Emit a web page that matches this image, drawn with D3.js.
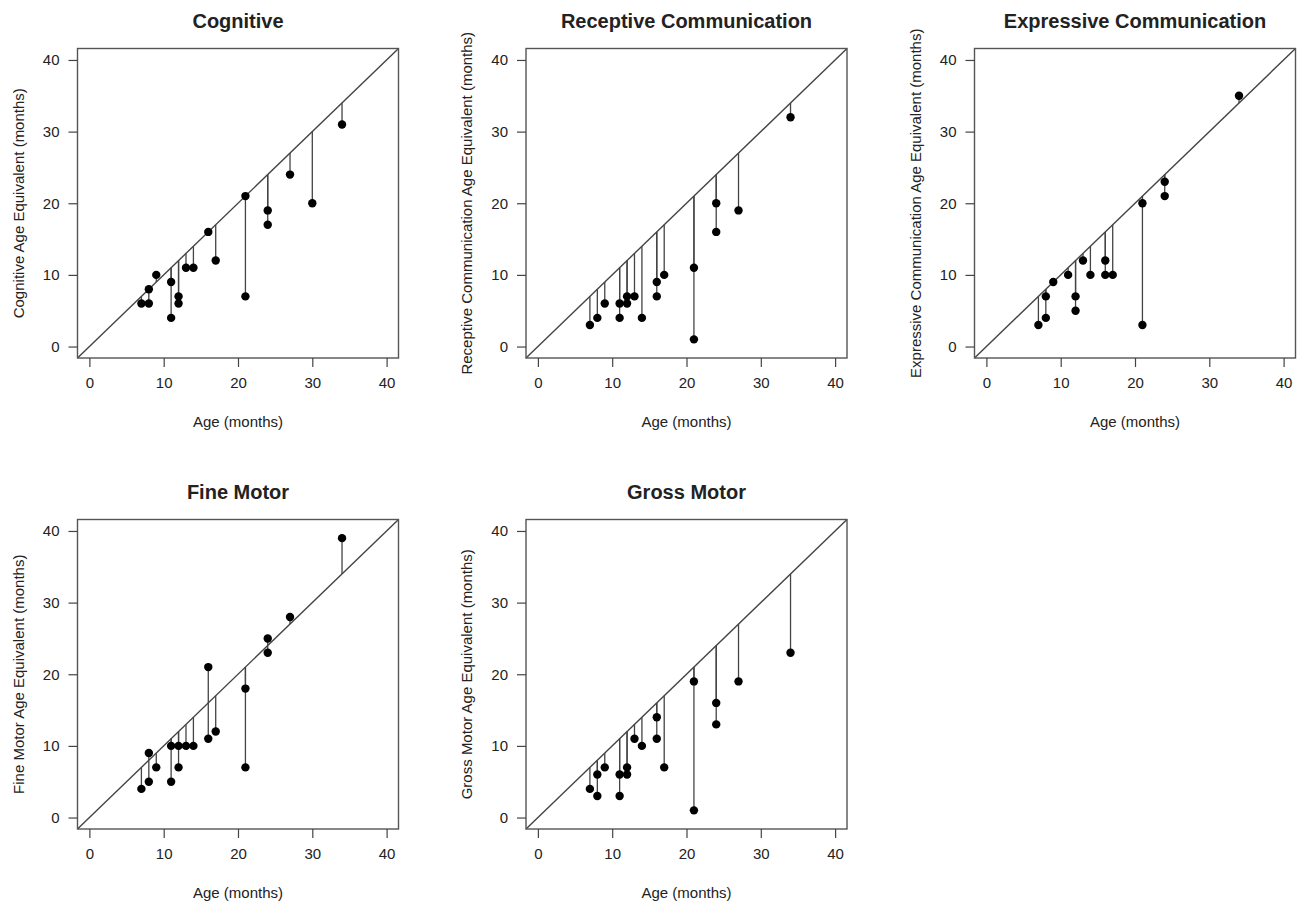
<!DOCTYPE html>
<html>
<head>
<meta charset="utf-8">
<script src="https://cdn.jsdelivr.net/npm/d3@7"></script>
<style>
  body { margin: 0; background: #fff; }
  text { font-family: "Liberation Sans", Arial, Helvetica, sans-serif; fill: #222; }
</style>
</head>
<body>
<div id="chart"></div>
<script>
// Panels
var titles = ["Cognitive", "Receptive Communication", "Expressive Communication", "Fine Motor", "Gross Motor"];
var yLabels = [
	"Cognitive Age Equivalent (months)",
	"Receptive Communication Age Equivalent (months)",
	"Expressive Communication Age Equivalent (months)",
	"Fine Motor Age Equivalent (months)",
	"Gross Motor Age Equivalent (months)"
];
var tickValues = [0, 10, 20, 30, 40];

// age (months) and age equivalent (months) per domain
var cognitiveAge = [7, 8, 8, 9, 11, 11, 12, 12, 13, 14, 16, 17, 21, 21, 24, 24, 27, 30, 34];
var cognitiveAE  = [6, 6, 8, 10, 9, 4, 7, 6, 11, 11, 16, 12, 21, 7, 19, 17, 24, 20, 31];

var receptiveAge = [7, 8, 9, 11, 11, 12, 12, 13, 14, 16, 16, 17, 21, 21, 24, 24, 27, 34];
var receptiveAE  = [3, 4, 6, 6, 4, 6, 7, 7, 4, 9, 7, 10, 11, 1, 20, 16, 19, 32];

var expressiveAge = [7, 8, 8, 9, 11, 12, 12, 13, 14, 16, 16, 17, 21, 21, 24, 24, 34];
var expressiveAE  = [3, 4, 7, 9, 10, 7, 5, 12, 10, 12, 10, 10, 20, 3, 23, 21, 35];

var fineMotorAge = [7, 8, 8, 9, 11, 11, 12, 12, 13, 14, 16, 16, 17, 21, 21, 24, 24, 27, 34];
var fineMotorAE  = [4, 5, 9, 7, 5, 10, 10, 7, 10, 10, 21, 11, 12, 18, 7, 25, 23, 28, 39];

var grossMotorAge = [7, 8, 8, 9, 11, 11, 12, 12, 13, 14, 16, 16, 17, 21, 21, 24, 24, 27, 34];
var grossMotorAE  = [4, 3, 6, 7, 6, 3, 6, 7, 11, 10, 14, 11, 7, 19, 1, 16, 13, 19, 23];

var ages = [cognitiveAge, receptiveAge, expressiveAge, fineMotorAge, grossMotorAge];
var equivalents = [cognitiveAE, receptiveAE, expressiveAE, fineMotorAE, grossMotorAE];

var width = 1304,
	height = 906,
	boxLeft = 77.5,
	boxTop = 48.5,
	boxW = 321,
	boxH = 309.5,
	colStep = 448.5,
	rowStep = 471,
	lineColor = "#444";

var svg = d3.select("#chart").append("svg")
	.attr("width", width)
	.attr("height", height);

// R style: xlim c(0,40) padded by 4%
var domain = [-1.6, 41.6];

titles.forEach(function(title, i) {
	var col = i % 3, row = Math.floor(i / 3);
	var x0 = boxLeft + col * colStep,
		y0 = boxTop + row * rowStep;

	var x = d3.scaleLinear().domain(domain).range([x0, x0 + boxW]);
	var y = d3.scaleLinear().domain(domain).range([y0 + boxH, y0]);

	var g = svg.append("g").attr("class", "panel");

	var pts = ages[i].map(function(a, j) { return {age: a, ae: equivalents[i][j]}; });

	// identity line
	g.append("line")
		.attr("x1", x(domain[0])).attr("y1", y(domain[0]))
		.attr("x2", x(domain[1])).attr("y2", y(domain[1]))
		.attr("stroke", lineColor)
		.attr("stroke-width", 1.4);

	// segments from the line to each point
	g.selectAll("line.seg")
		.data(pts)
		.enter().append("line")
		.attr("class", "seg")
		.attr("x1", function(d) { return x(d.age); })
		.attr("x2", function(d) { return x(d.age); })
		.attr("y1", function(d) { return y(d.age); })
		.attr("y2", function(d) { return y(d.ae); })
		.attr("stroke", lineColor)
		.attr("stroke-width", 1.3);

	g.selectAll("circle")
		.data(pts)
		.enter().append("circle")
		.attr("cx", function(d) { return x(d.age); })
		.attr("cy", function(d) { return y(d.ae); })
		.attr("r", 4.2)
		.attr("fill", "#000");

	// box
	g.append("rect")
		.attr("x", x0).attr("y", y0)
		.attr("width", boxW).attr("height", boxH)
		.attr("fill", "none")
		.attr("stroke", "#555")
		.attr("stroke-width", 1.4);

	// axes
	var xAxis = d3.axisBottom(x).tickValues(tickValues).tickSize(9).tickPadding(10);
	var yAxis = d3.axisLeft(y).tickValues(tickValues).tickSize(9).tickPadding(9);

	var gx = g.append("g")
		.attr("transform", "translate(0," + (y0 + boxH) + ")")
		.call(xAxis);
	var gy = g.append("g")
		.attr("transform", "translate(" + x0 + ",0)")
		.call(yAxis);

	[gx, gy].forEach(function(ax) {
		ax.select(".domain").remove();
		ax.selectAll(".tick line").attr("stroke", lineColor).attr("stroke-width", 1.2);
		ax.selectAll(".tick text")
			.style("font-size", "15px")
			.attr("fill", "#222");
	});

	// title
	g.append("text")
		.attr("x", x0 + boxW / 2)
		.attr("y", y0 - 20.5)
		.attr("text-anchor", "middle")
		.style("font-size", "20px")
		.style("font-weight", "bold")
		.text(title);

	// x label
	g.append("text")
		.attr("x", x0 + boxW / 2)
		.attr("y", y0 + boxH + 69)
		.attr("text-anchor", "middle")
		.style("font-size", "15px")
		.text("Age (months)");

	// y label
	g.append("text")
		.attr("transform", "translate(" + (x0 - 54) + "," + (y0 + boxH / 2) + ") rotate(-90)")
		.attr("text-anchor", "middle")
		.style("font-size", "15px")
		.text(yLabels[i]);
});
</script>
</body>
</html>
